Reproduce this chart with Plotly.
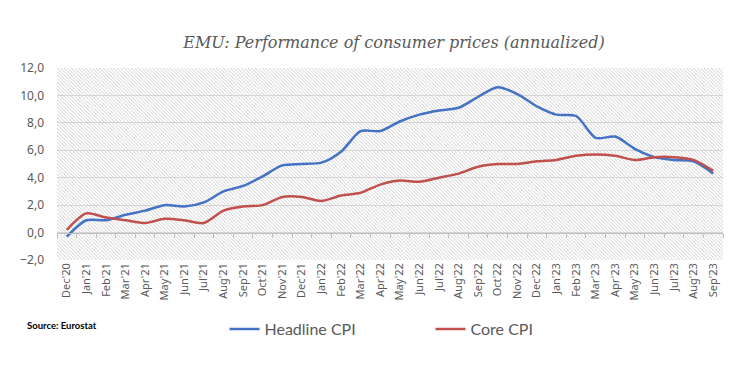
import plotly.graph_objects as go

months = ["Dec'20", "Jan'21", "Feb'21", "Mar'21", "Apr'21", "May'21", "Jun'21", "Jul'21",
          "Aug'21", "Sep'21", "Oct'21", "Nov'21", "Dec'21", "Jan'22", "Feb'22", "Mar'22",
          "Apr'22", "May'22", "Jun'22", "Jul'22", "Aug'22", "Sep'22", "Oct'22", "Nov'22",
          "Dec'22", "Jan'23", "Feb'23", "Mar'23", "Apr'23", "May'23", "Jun'23", "Jul'23",
          "Aug'23", "Sep'23"]

headline_cpi = [-0.3, 0.9, 0.9, 1.3, 1.6, 2.0, 1.9, 2.2, 3.0, 3.4, 4.1, 4.9, 5.0, 5.1, 5.9, 7.4,
                7.4, 8.1, 8.6, 8.9, 9.1, 9.9, 10.6, 10.1, 9.2, 8.6, 8.5, 6.9, 7.0, 6.1, 5.5, 5.3,
                5.2, 4.3]

core_cpi = [0.2, 1.4, 1.1, 0.9, 0.7, 1.0, 0.9, 0.7, 1.6, 1.9, 2.0, 2.6, 2.6, 2.3, 2.7, 2.9,
            3.5, 3.8, 3.7, 4.0, 4.3, 4.8, 5.0, 5.0, 5.2, 5.3, 5.6, 5.7, 5.6, 5.3, 5.5, 5.5,
            5.3, 4.5]

y_min, y_max, y_step = -2, 12, 2

GREY_TXT = "#595959"
BLUE = "#4472C4"
RED = "#C0504D"

fig = go.Figure()

# hatched plot-area background
fig.add_trace(go.Bar(
    x=[months[0]], y=[y_max - y_min], base=[y_min], width=[len(months)], offset=-0.5,
    marker=dict(color="rgba(255,255,255,0)", line=dict(width=0),
                pattern=dict(shape="\\", fgcolor="#c8c8c8", bgcolor="rgba(255,255,255,0)",
                             size=2.5, solidity=0.35, fillmode="replace")),
    hoverinfo="skip", showlegend=False,
))

fig.add_trace(go.Scatter(
    x=months, y=headline_cpi, name="Headline CPI", mode="lines",
    line=dict(color=BLUE, width=2.5, shape="spline", smoothing=0.8),
))
fig.add_trace(go.Scatter(
    x=months, y=core_cpi, name="Core CPI", mode="lines",
    line=dict(color=RED, width=2.5, shape="spline", smoothing=0.8),
))

fig.update_layout(
    width=755, height=369,
    margin=dict(l=49, r=40, t=60, b=117, autoexpand=False),
    paper_bgcolor="white", plot_bgcolor="white",
    separators=",.",
    barmode="overlay",
    title=dict(text="EMU: Performance of consumer prices (annualized)",
               x=0.506, xref="paper", xanchor="center", y=0.908, yanchor="middle",
               font=dict(family="DejaVu Serif", size=16, color=GREY_TXT, style="italic")),
    font=dict(family="Lato", color=GREY_TXT),
    xaxis=dict(type="category", categoryorder="array", categoryarray=months,
               range=[-0.5, len(months) - 0.5], showgrid=False, zeroline=False,
               showline=False, ticks="", tickangle=-90, automargin=False,
               tickfont=dict(family="Noto Sans", size=11, color=GREY_TXT)),
    xaxis2=dict(overlaying="x", anchor="free", position=(0 - y_min) / (y_max - y_min),
                range=[-0.5, len(months) - 0.5], tick0=-0.5, dtick=1, ticks="outside",
                ticklen=4, tickcolor="#bfbfbf", showline=True, linecolor="#bfbfbf",
                linewidth=1, showgrid=False, zeroline=False, showticklabels=False),
    yaxis=dict(range=[y_min, y_max], dtick=y_step, tick0=0, tickformat=".1f",
               showgrid=True, gridcolor="#d9d9d9", gridwidth=1, zeroline=False,
               showline=False, ticks="", ticklabelstandoff=12, automargin=False,
               tickfont=dict(family="Noto Sans", size=12, color=GREY_TXT)),
    legend=dict(orientation="h", x=0.2515, xanchor="left", y=-0.36, yanchor="middle",
                font=dict(family="Lato", size=16, color=GREY_TXT),
                entrywidth=161, entrywidthmode="pixels", bgcolor="rgba(0,0,0,0)"),
    annotations=[dict(text="Source: Eurostat", xref="paper", yref="paper",
                      x=-0.048, xanchor="left", y=-0.34, yanchor="middle", showarrow=False,
                      font=dict(family="Lato", size=9.5, color="black", weight="bold"))],
)

# invisible trace so the zero-line axis is drawn
fig.add_trace(go.Scatter(x=[0], y=[0], xaxis="x2", mode="markers",
                         marker=dict(opacity=0), hoverinfo="skip", showlegend=False))

fig.write_html("out.html")
